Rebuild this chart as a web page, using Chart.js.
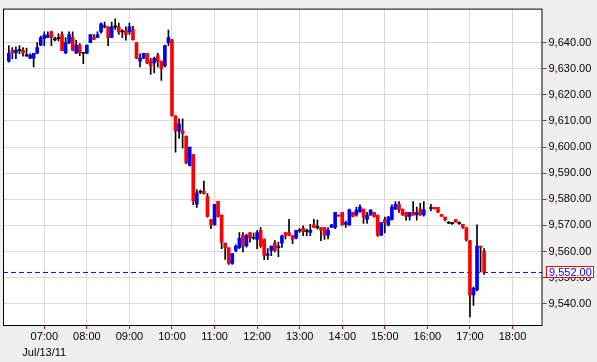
<!DOCTYPE html>
<html>
<head>
<meta charset="utf-8">
<script src="https://cdn.jsdelivr.net/npm/chart.js@4.4.1/dist/chart.umd.min.js"></script>
<style>
  html, body { margin: 0; padding: 0; background: #eeeeee; }
  canvas { display: block; }
</style>
</head>
<body>
<canvas id="chart" width="597" height="362"></canvas>
<script>
// 5 minute candles, Jul/13/11 (16:00 bar missing in the source)
const times = [
  "06:10","06:15","06:20","06:25","06:30","06:35","06:40","06:45","06:50","06:55",
  "07:00","07:05","07:10","07:15","07:20","07:25","07:30","07:35","07:40","07:45","07:50","07:55",
  "08:00","08:05","08:10","08:15","08:20","08:25","08:30","08:35","08:40","08:45","08:50","08:55",
  "09:00","09:05","09:10","09:15","09:20","09:25","09:30","09:35","09:40","09:45","09:50","09:55",
  "10:00","10:05","10:10","10:15","10:20","10:25","10:30","10:35","10:40","10:45","10:50","10:55",
  "11:00","11:05","11:10","11:15","11:20","11:25","11:30","11:35","11:40","11:45","11:50","11:55",
  "12:00","12:05","12:10","12:15","12:20","12:25","12:30","12:35","12:40","12:45","12:50","12:55",
  "13:00","13:05","13:10","13:15","13:20","13:25","13:30","13:35","13:40","13:45","13:50","13:55",
  "14:00","14:05","14:10","14:15","14:20","14:25","14:30","14:35","14:40","14:45","14:50","14:55",
  "15:00","15:05","15:10","15:15","15:20","15:25","15:30","15:35","15:40","15:45","15:50","15:55",
  "16:05","16:10","16:15","16:20","16:25","16:30","16:35","16:40","16:45","16:50","16:55",
  "17:00","17:05","17:10","17:15","17:20"
]

const opens = [
  9632.9, 9637.0, 9636.0, 9636.9, 9637.0, 9634.9, 9634.0, 9634.0, 9635.9, 9639.0,
  9641.5, 9642.0, 9644.1, 9641.0, 9641.5, 9643.1, 9636.0, 9640.0, 9642.0, 9636.0, 9639.0, 9635.9,
  9635.9, 9640.0, 9642.0, 9642.0, 9644.1, 9646.0, 9646.0, 9642.0, 9646.0, 9646.0, 9644.1, 9644.4,
  9644.1, 9645.0, 9640.0, 9632.9, 9634.0, 9635.9, 9632.9, 9632.2, 9635.0, 9632.9, 9631.1, 9640.0,
  9641.0, 9612.0, 9606.1, 9606.1, 9604.2, 9593.0, 9597.1, 9578.1, 9582.7, 9583.1, 9581.0, 9572.2,
  9570.3, 9579.2, 9574.0, 9563.2, 9561.4, 9555.5, 9560.4, 9561.5, 9566.2, 9562.2, 9567.3, 9565.1,
  9564.6, 9568.1, 9564.8, 9558.5, 9560.4, 9563.1, 9561.5, 9563.2, 9567.3, 9567.3, 9566.1, 9565.2,
  9567.9, 9568.9, 9567.6, 9567.3, 9570.2, 9569.2, 9569.2, 9569.2, 9566.3, 9569.2, 9569.2, 9574.0,
  9575.0, 9570.4, 9570.2, 9575.0, 9574.0, 9575.3, 9576.3, 9572.3, 9574.0, 9575.0, 9574.0, 9566.3,
  9572.2, 9570.2, 9572.3, 9576.3, 9578.1, 9576.3, 9575.0, 9573.4, 9575.0, 9574.0, 9576.3, 9574.0,
  9576.4, 9576.9, 9576.9, 9574.2, 9573.2, 9570.9, 9570.7, 9572.2, 9570.7, 9570.4, 9569.2,
  9564.2, 9543.4, 9545.3, 9562.1, 9560.2
]

const highs = [
  9638.8, 9638.1, 9638.4, 9638.8, 9638.1, 9637.9, 9635.7, 9635.9, 9640.0, 9642.5,
  9644.1, 9644.1, 9644.4, 9642.1, 9643.4, 9644.1, 9641.9, 9644.1, 9644.1, 9640.9, 9639.6, 9635.9,
  9639.0, 9643.1, 9643.1, 9644.1, 9647.6, 9647.8, 9646.0, 9647.8, 9649.1, 9647.5, 9645.0, 9646.0,
  9647.5, 9646.2, 9640.0, 9635.7, 9635.9, 9635.9, 9634.0, 9634.4, 9635.9, 9632.9, 9639.0, 9644.8,
  9641.2, 9612.0, 9610.8, 9610.8, 9604.2, 9600.0, 9597.1, 9583.7, 9583.5, 9587.0, 9582.2, 9572.2,
  9578.1, 9579.2, 9574.0, 9563.2, 9561.4, 9559.2, 9562.6, 9567.3, 9567.3, 9566.7, 9567.3, 9567.1,
  9568.0, 9569.2, 9564.8, 9561.1, 9562.1, 9564.2, 9563.6, 9566.3, 9567.3, 9572.3, 9566.1, 9568.1,
  9568.8, 9569.8, 9568.6, 9570.4, 9572.3, 9572.0, 9569.2, 9569.2, 9569.2, 9570.4, 9575.0, 9574.0,
  9575.0, 9571.7, 9576.3, 9575.0, 9577.0, 9577.9, 9576.3, 9575.0, 9576.0, 9575.0, 9574.0, 9571.1,
  9573.2, 9573.5, 9577.9, 9579.1, 9579.1, 9576.3, 9575.0, 9575.0, 9579.1, 9577.0, 9578.5, 9579.1,
  9578.1, 9576.9, 9576.9, 9574.2, 9573.2, 9571.4, 9571.2, 9572.2, 9571.4, 9570.4, 9569.2,
  9564.2, 9546.5, 9570.2, 9562.1, 9561.1
]

const lows = [
  9632.5, 9633.8, 9633.8, 9635.7, 9634.8, 9634.7, 9633.8, 9630.7, 9635.7, 9638.8,
  9638.8, 9641.9, 9638.8, 9640.6, 9640.6, 9636.9, 9635.7, 9639.6, 9636.9, 9635.7, 9635.0, 9631.9,
  9635.7, 9640.0, 9641.1, 9641.9, 9643.6, 9645.6, 9638.8, 9641.9, 9645.0, 9643.1, 9641.9, 9640.9,
  9643.1, 9640.9, 9633.8, 9630.7, 9633.8, 9631.9, 9627.8, 9628.4, 9630.7, 9625.5, 9630.7, 9638.8,
  9611.8, 9598.0, 9603.3, 9599.6, 9593.6, 9592.8, 9577.9, 9576.9, 9582.2, 9582.0, 9573.2, 9568.8,
  9570.0, 9573.2, 9561.1, 9557.0, 9555.1, 9555.1, 9559.9, 9561.1, 9559.9, 9561.7, 9563.6, 9564.6,
  9561.1, 9561.6, 9556.9, 9556.9, 9558.4, 9559.9, 9558.0, 9561.6, 9564.8, 9566.1, 9563.0, 9564.8,
  9567.3, 9566.1, 9566.1, 9566.1, 9569.2, 9568.6, 9564.2, 9564.6, 9564.8, 9569.2, 9568.8, 9573.5,
  9570.1, 9569.2, 9570.1, 9573.3, 9573.5, 9575.0, 9570.8, 9570.8, 9573.8, 9573.2, 9565.8, 9566.1,
  9567.1, 9569.8, 9572.0, 9576.0, 9575.0, 9573.8, 9572.0, 9572.0, 9573.8, 9572.0, 9573.8, 9573.5,
  9575.6, 9576.3, 9574.9, 9573.4, 9571.7, 9570.7, 9570.4, 9571.2, 9570.4, 9568.9, 9564.0,
  9535.0, 9539.4, 9544.9, 9552.2, 9551.2
]

const closes = [
  9635.9, 9636.0, 9637.0, 9636.9, 9636.0, 9634.9, 9635.2, 9635.9, 9638.1, 9641.9,
  9642.9, 9642.9, 9642.0, 9641.0, 9641.5, 9636.9, 9640.0, 9643.1, 9637.1, 9639.0, 9636.0, 9635.9,
  9639.0, 9643.1, 9641.2, 9643.1, 9647.2, 9646.0, 9641.9, 9646.0, 9646.0, 9644.1, 9644.1, 9643.1,
  9646.0, 9641.1, 9634.0, 9634.0, 9635.9, 9632.2, 9631.1, 9634.0, 9632.9, 9630.1, 9638.8, 9641.9,
  9612.0, 9606.2, 9608.9, 9605.1, 9594.0, 9600.0, 9579.4, 9582.5, 9582.7, 9582.2, 9573.4, 9570.3,
  9578.1, 9573.4, 9563.5, 9561.5, 9555.5, 9559.2, 9562.1, 9565.1, 9562.2, 9566.2, 9565.2, 9565.1,
  9567.3, 9562.2, 9558.5, 9559.1, 9562.1, 9560.4, 9562.1, 9566.0, 9566.2, 9566.2, 9564.6, 9568.1,
  9567.9, 9567.6, 9567.6, 9568.2, 9569.2, 9569.2, 9568.2, 9566.3, 9568.2, 9570.2, 9575.0, 9573.5,
  9570.2, 9571.1, 9576.0, 9573.4, 9576.0, 9577.0, 9573.2, 9574.0, 9576.0, 9573.4, 9566.3, 9571.1,
  9571.1, 9573.2, 9577.0, 9578.1, 9576.0, 9574.0, 9573.4, 9575.0, 9574.0, 9575.0, 9574.0, 9576.0,
  9576.9, 9576.3, 9575.1, 9573.4, 9572.2, 9570.9, 9570.7, 9571.2, 9570.7, 9569.2, 9564.5,
  9543.4, 9545.9, 9562.1, 9561.6, 9552.0
]

const hourTicks = ["07:00","08:00","09:00","10:00","11:00","12:00","13:00","14:00","15:00","16:00","17:00","18:00"]
const priceTicks = [9540, 9550, 9560, 9570, 9580, 9590, 9600, 9610, 9620, 9630, 9640]
const dateLabel = "Jul/13/11"

// visible window of the plot
const xMin = 361.8, xMax = 1122.3
const yMin = 9531.5, yMax = 9653.0

const toMin = (t) => { const [h, m] = t.split(":").map(Number); return h * 60 + m }
const fmtTime = (v) => String(Math.floor(v / 60)).padStart(2, "0") + ":" + String(v % 60).padStart(2, "0")
const fmtPrice = (v) => v.toLocaleString("en-US", { minimumFractionDigits: 2, maximumFractionDigits: 2 })

const lastPrice = closes[closes.length - 1]
const candleColor = closes.map((c, i) => c > opens[i] ? "#0000ff" : c < opens[i] ? "#ff0000" : "#000000")

Chart.defaults.font.family = "'Liberation Sans', Arial, sans-serif"
Chart.defaults.font.size = 11
Chart.defaults.color = "#000"

const frame = {
  id: "frame",
  beforeDraw(chart) {
    const { ctx, chartArea: a } = chart
    ctx.save()
    ctx.fillStyle = "#eeeeee"
    ctx.fillRect(0, 0, chart.width, chart.height)
    ctx.fillStyle = "#ffffff"
    ctx.fillRect(a.left, a.top, a.right - a.left, a.bottom - a.top)
    ctx.restore()
  },
  afterDraw(chart) {
    const { ctx, chartArea: a, scales } = chart
    ctx.save()
    ctx.strokeStyle = "#000"
    ctx.lineWidth = 1
    ctx.strokeRect(a.left + 0.5, a.top + 0.5, a.right - a.left - 1, a.bottom - a.top - 1)

    // last price tag
    const y = Math.round(scales.y.getPixelForValue(lastPrice))
    const bx = Math.round(a.right) + 3
    ctx.fillStyle = "#fff"
    ctx.fillRect(bx, y - 6, 48, 12)
    ctx.strokeStyle = "#ff0000"
    ctx.strokeRect(bx + 0.5, y - 5.5, 47, 11)
    ctx.fillStyle = "#0000ff"
    ctx.font = "11px 'Liberation Sans', Arial, sans-serif"
    ctx.textBaseline = "middle"
    ctx.fillText(fmtPrice(lastPrice), bx + 3, y + 1)
    ctx.restore()
  }
}

new Chart(document.getElementById("chart"), {
  type: "bar",
  data: {
    datasets: [
      {
        label: "body",
        data: times.map((t, i) => ({ x: toMin(t), y: [opens[i], closes[i]] })),
        backgroundColor: candleColor,
        borderWidth: 0,
        barThickness: 3,
        minBarLength: 1,
        grouped: false,
        order: 1
      },
      {
        label: "wick",
        data: times.map((t, i) => ({ x: toMin(t), y: [lows[i], highs[i]] })),
        backgroundColor: "#000000",
        borderWidth: 0,
        barThickness: 1,
        grouped: false,
        order: 2
      },
      {
        type: "line",
        label: "last",
        data: [{ x: xMin, y: lastPrice }, { x: xMax, y: lastPrice }],
        borderColor: "#0000ff",
        borderWidth: 1,
        borderDash: [5, 3],
        pointRadius: 0,
        order: 3
      }
    ]
  },
  options: {
    responsive: false,
    animation: false,
    layout: { padding: { left: 3, top: 0, right: 0, bottom: 0 } },
    plugins: {
      legend: { display: false },
      tooltip: { enabled: false }
    },
    scales: {
      x: {
        type: "linear",
        min: xMin,
        max: xMax,
        offset: false,
        afterBuildTicks: (s) => { s.ticks = hourTicks.map((t) => ({ value: toMin(t) })) },
        afterFit: (s) => { s.height = 36 },
        ticks: {
          autoSkip: false,
          maxRotation: 0,
          padding: 0,
          font: { lineHeight: 1.45 },
          callback: (v, i) => i === 0 ? [fmtTime(v), dateLabel] : fmtTime(v)
        },
        grid: { offset: false, color: "#d9d9d9", tickColor: "#ff0000", tickLength: 3 },
        border: { display: false }
      },
      y: {
        position: "right",
        min: yMin,
        max: yMax,
        afterBuildTicks: (s) => { s.ticks = priceTicks.map((v) => ({ value: v })) },
        afterFit: (s) => { s.width = 54.5 },
        ticks: {
          padding: 2,
          callback: (v) => fmtPrice(v)
        },
        grid: { color: "#d9d9d9", tickColor: "#ff0000", tickLength: 4 },
        border: { display: false }
      }
    }
  },
  plugins: [frame]
})
</script>
</body>
</html>
